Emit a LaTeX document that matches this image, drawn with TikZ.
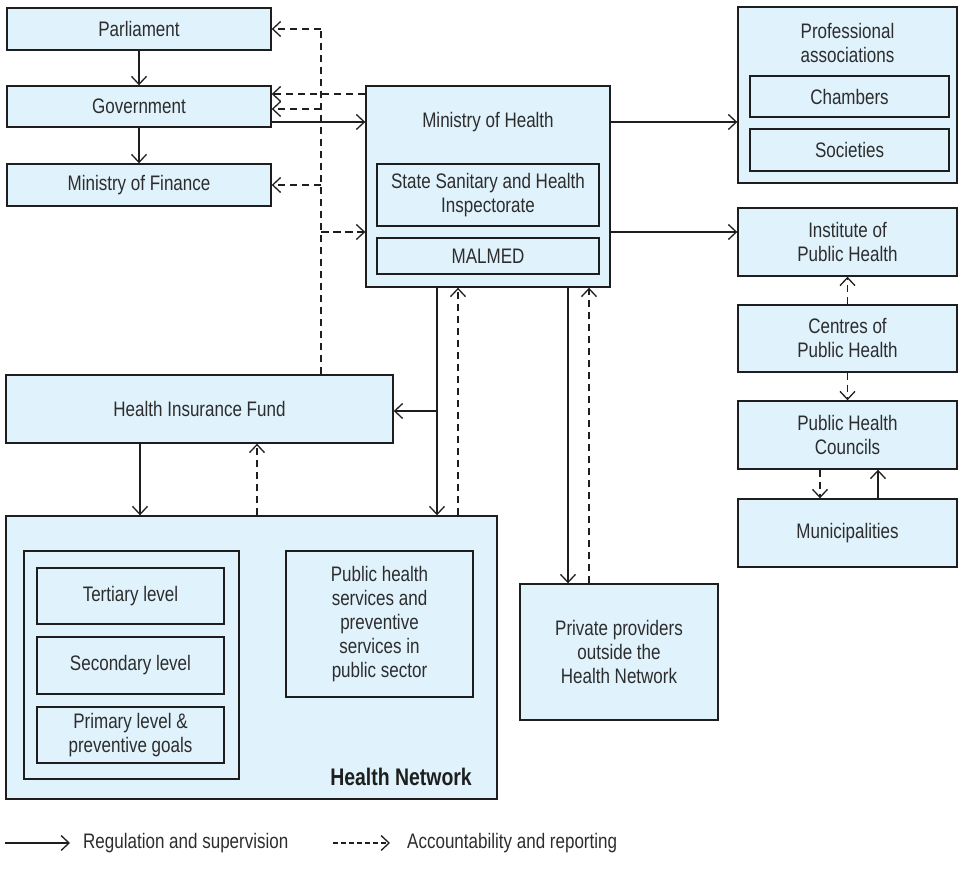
\documentclass[tikz,border=0pt]{standalone}
\usepackage{fontspec}
\setmainfont{Liberation Sans}[FakeStretch=0.81]
\usetikzlibrary{arrows.meta}
\definecolor{boxfill}{RGB}{224,242,252}
\definecolor{txt}{RGB}{45,45,45}
\definecolor{ln}{RGB}{30,30,30}
\begin{document}
\begin{tikzpicture}[x=1pt,y=-1pt,
  box/.style={draw=ln,line width=1.4pt,fill=boxfill,text=txt,align=center,inner sep=0pt,
    font=\fontsize{21}{24}\selectfont},
  plain/.style={text=txt,align=center,inner sep=0pt,font=\fontsize{21}{24}\selectfont},
  reg/.style={draw=ln,line width=1.4pt,-{Straight Barb[length=8pt,width=15pt,line width=1.3pt]}},
  acc/.style={draw=ln,line width=1.5pt,dash pattern=on 7.5pt off 4.5pt,-{Straight Barb[length=8pt,width=15pt,line width=1.3pt]}},
  accl/.style={draw=ln,line width=1.5pt,dash pattern=on 7.5pt off 4.5pt},
]
\useasboundingbox (0,0) rectangle (958,869);

% left column
\node[box,minimum width=264pt,minimum height=42pt] (parl) at (139,29) {Parliament};
\node[box,minimum width=264pt,minimum height=41pt] (gov) at (139,106.5) {Government};
\node[box,minimum width=264pt,minimum height=42pt] (fin) at (139,185) {Ministry of Finance};

% Ministry of Health
\node[box,minimum width=244pt,minimum height=201pt] (moh) at (488,186.5) {};
\node[plain] (mohlabel) at (488,122) {Ministry of Health};
\node[box,minimum width=222pt,minimum height=62pt] (sshi) at (488,195) {State Sanitary and Health\\Inspectorate};
\node[box,minimum width=222pt,minimum height=36pt] (malmed) at (488,256) {MALMED};

% right column
\node[box,minimum width=219pt,minimum height=176pt] (prof) at (847.5,95) {};
\node[plain] (proflabel) at (847.5,42.5) {Professional\\associations};
\node[box,minimum width=199pt,minimum height=41pt] (cham) at (849.5,96.5) {Chambers};
\node[box,minimum width=199pt,minimum height=42pt] (soc) at (849.5,150) {Societies};
\node[box,minimum width=219pt,minimum height=68pt] (inst) at (847.5,242) {Institute of\\Public Health};
\node[box,minimum width=219pt,minimum height=67pt] (cent) at (847.5,338.5) {Centres of\\Public Health};
\node[box,minimum width=219pt,minimum height=68pt] (coun) at (847.5,435) {Public Health\\Councils};
\node[box,minimum width=219pt,minimum height=68pt] (muni) at (847.5,533) {Municipalities};

% Health Insurance Fund
\node[box,minimum width=387pt,minimum height=68pt] (hif) at (199.5,409) {Health Insurance Fund};

% Health Network
\node[box,minimum width=491pt,minimum height=283pt] (hn) at (251.5,657.5) {};
\node[box,minimum width=215pt,minimum height=228pt] (levels) at (131.5,665) {};
\node[box,minimum width=187pt,minimum height=56pt] (tert) at (130.5,596) {Tertiary level};
\node[box,minimum width=187pt,minimum height=57pt] (sec) at (130.5,665.5) {Secondary level};
\node[box,minimum width=187pt,minimum height=56pt] (prim) at (130.5,735) {Primary level \&\\preventive goals};
\node[box,minimum width=187pt,minimum height=146pt] (phs) at (379.5,624) {Public health\\services and\\preventive\\services in\\public sector};
\node[plain,anchor=east,font=\fontsize{24}{27}\selectfont\bfseries,text=ln] (hnlabel) at (472,777) {Health Network};

% Private providers
\node[box,minimum width=198pt,minimum height=136pt] (priv) at (619,652) {Private providers\\outside the\\Health Network};

% connectors: left column
\draw[reg] (parl.south) -- (gov.north);
\draw[reg] (gov.south) -- (fin.north);
\draw[reg] (gov.east |- 0,122) -- (moh.west |- 0,122);
\draw[acc] (moh.west |- 0,94) -- (gov.east |- 0,94);

\coordinate (vtop) at (321,29);
\draw[accl] (hif.north -| vtop) -- (vtop);
\draw[acc] (vtop) -- (parl.east);
\draw[acc] (vtop |- 0,109) -- (gov.east |- 0,109);
\draw[acc] (vtop |- fin.east) -- (fin.east);
\draw[acc] (vtop |- 0,232) -- (moh.west |- 0,232);

% MoH to right column
\draw[reg] (moh.east |- 0,122) -- (prof.west |- 0,122);
\draw[reg] (moh.east |- 0,232) -- (inst.west |- 0,232);
\draw[acc] (cent.north) -- (inst.south);
\draw[acc] (cent.south) -- (coun.north);
\draw[acc] (coun.south -| 820,0) -- (muni.north -| 820,0);
\draw[reg] (muni.north -| 878,0) -- (coun.south -| 878,0);

% MoH down
\draw[reg] (moh.south -| 437,0) -- (hn.north -| 437,0);
\coordinate (br) at (437,411);
\draw[reg] (br) -- (hif.east |- br);
\draw[acc] (hn.north -| 458,0) -- (moh.south -| 458,0);
\draw[reg] (moh.south -| 568,0) -- (priv.north -| 568,0);
\draw[acc] (priv.north -| 589,0) -- (moh.south -| 589,0);

% HIF <-> HN
\draw[reg] (hif.south -| 140,0) -- (hn.north -| 140,0);
\draw[acc] (hn.north -| 257,0) -- (hif.south -| 257,0);

% legend
\coordinate (l1a) at (5,843);
\coordinate (l1b) at (70,843);
\draw[reg,line width=1.2pt] (l1a) -- (l1b);
\node[plain,anchor=west] (l1t) at (83,843) {Regulation and supervision};
\coordinate (l2a) at (333,843);
\coordinate (l2b) at (390,843);
\draw[reg,line width=1.2pt,dash pattern=on 5pt off 3pt] (l2a) -- (l2b);
\node[plain,anchor=west] (l2t) at (407,843) {Accountability and reporting};
\end{tikzpicture}
\end{document}
